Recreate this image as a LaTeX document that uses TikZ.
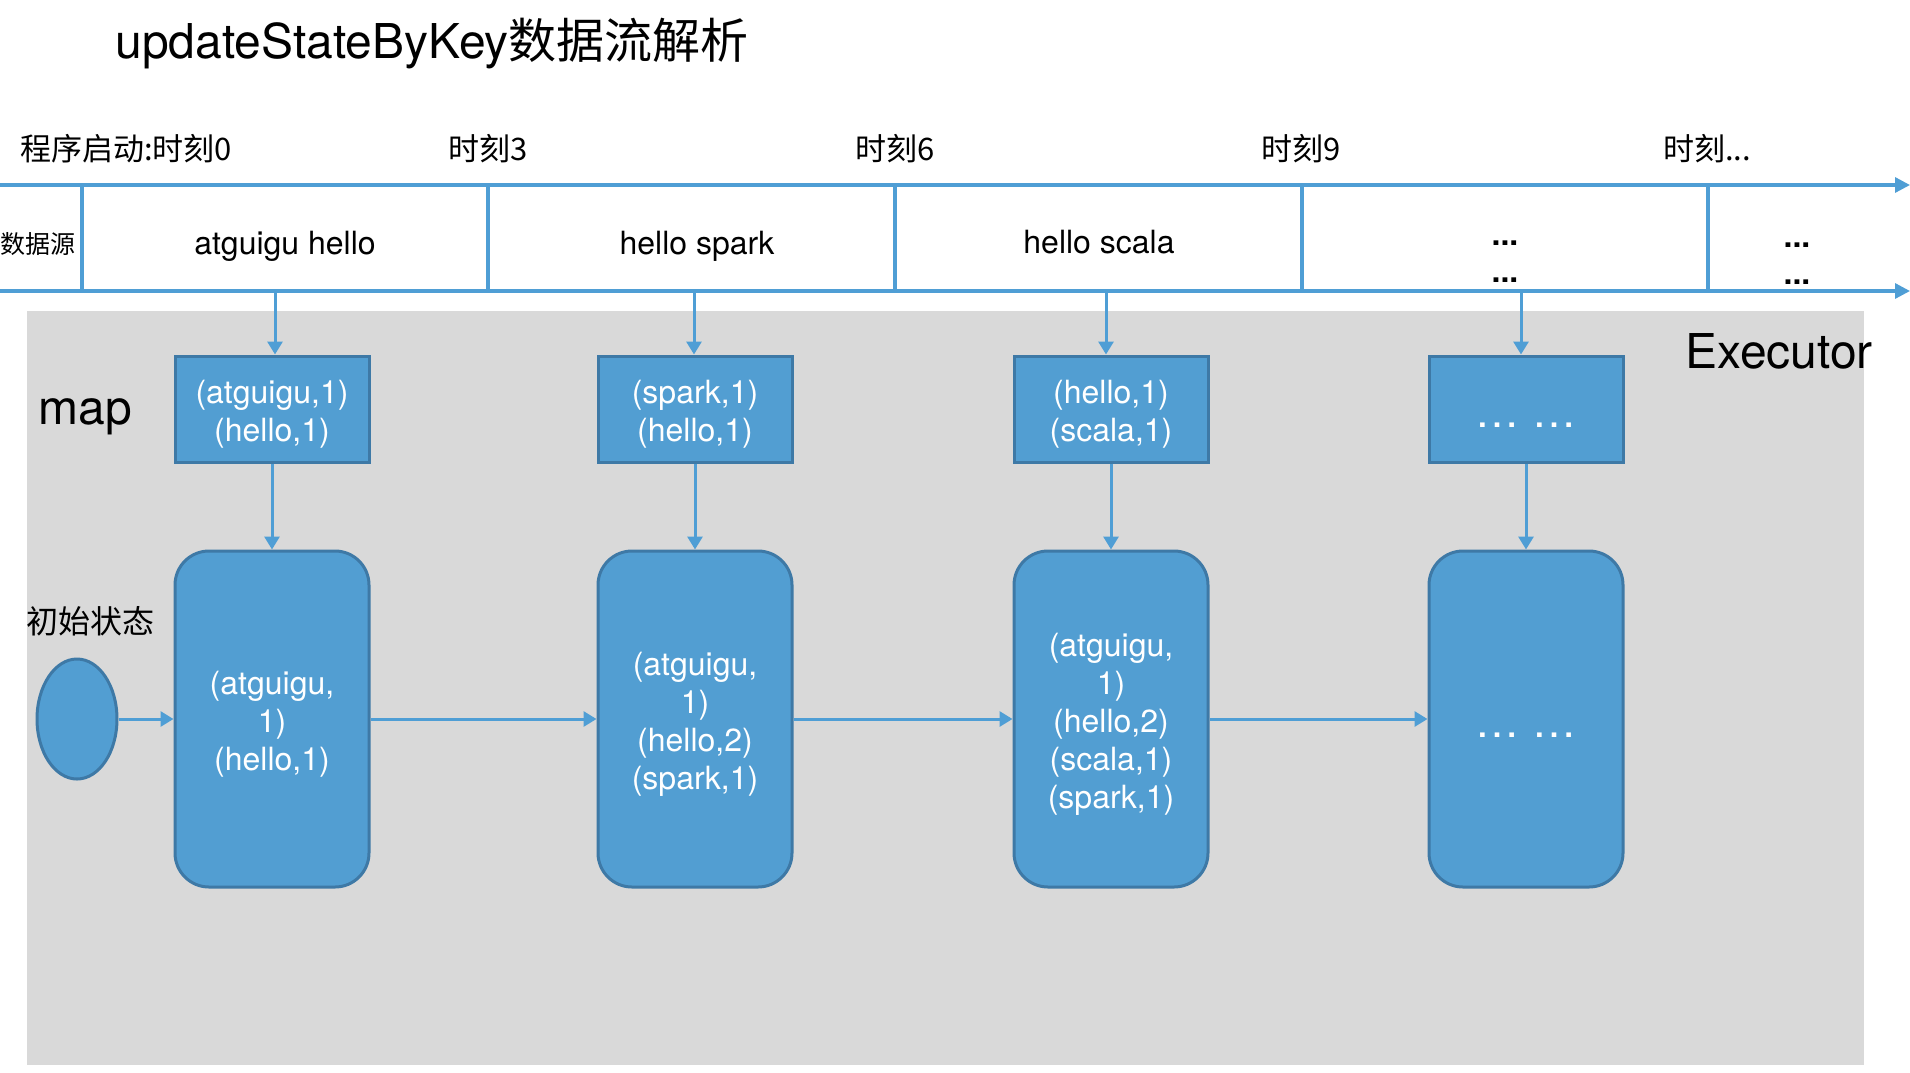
\documentclass[tikz,border=0pt]{standalone}
\usepackage{fontspec}
\setmainfont{TeX Gyre Heros}
\newfontfamily\cjk{Noto Sans CJK SC}
\usetikzlibrary{arrows.meta,positioning,shapes.geometric}

\definecolor{lineblue}{RGB}{79,158,213}
\definecolor{boxblue}{RGB}{82,158,210}
\definecolor{boxedge}{RGB}{62,121,166}
\definecolor{execgrey}{RGB}{217,217,217}

\tikzset{
  axisline/.style={draw=lineblue, line width=1.6pt, -{Triangle[length=7.5pt,width=7.5pt]}},
  sepline/.style={draw=lineblue, line width=1.6pt},
  flow/.style={draw=lineblue, line width=1.5pt, -{Triangle[length=6.5pt,width=7.5pt]}},
  mapbox/.style={rectangle, draw=boxedge, fill=boxblue, line width=1.5pt,
    minimum width=97pt, minimum height=53pt, text=white, align=center,
    font=\fontsize{16}{19}\selectfont, inner sep=0pt},
  statebox/.style={mapbox, rounded corners=17pt, minimum height=168pt},
  dotsbox/.style={text height=18.5pt, text depth=0pt},
  initstate/.style={ellipse, draw=boxedge, fill=boxblue, line width=1.5pt,
    minimum width=40pt, minimum height=60pt, inner sep=0pt},
  timelabel/.style={font={\cjk\fontsize{15.5}{18}\selectfont}, inner sep=0pt},
  datalabel/.style={font=\fontsize{16}{18.5}\selectfont, inner sep=0pt, align=center},
  biglabel/.style={font=\fontsize{24}{28}\selectfont, inner sep=0pt},
}
\newcommand{\dotpair}{{\fontsize{22}{24}\selectfont\textellipsis\ \textellipsis}}
\newcommand{\lowered}{\rule{0pt}{17pt}}

\begin{document}
\begin{tikzpicture}[x=0.5pt,y=-0.5pt]
\useasboundingbox (0,0) rectangle (1910,1072);
% Executor area
\fill[execgrey] (27,311) rectangle (1864,1065);

\node[biglabel, anchor=base west] (title) at (115,58) {updateStateByKey{\cjk 数据流解析}};

% time axis
\coordinate (top0) at (0,185);
\coordinate (top1) at (1910,185);
\coordinate (bot0) at (0,291);
\coordinate (bot1) at (1910,291);
\draw[axisline] (top0) -- (top1);
\draw[axisline] (bot0) -- (bot1);
\foreach \x in {82,488,895,1302,1708}
  \draw[sepline] (\x,185) -- (\x,291);

\node[timelabel] (t0) at (126,149) {程序启动:时刻0};
\node[timelabel] (t3) at (488,149) {时刻3};
\node[timelabel] (t6) at (895,149) {时刻6};
\node[timelabel] (t9) at (1301,149) {时刻9};
\node[timelabel] (tn) at (1707,149) {时刻...};

% data source
\node[font={\cjk\fontsize{12.5}{14}\selectfont}, inner sep=0pt] (src) at (38,244) {数据源};
\node[datalabel, anchor=base] (d1) at (285,254) {atguigu hello};
\node[datalabel, anchor=base] (d2) at (697,254) {hello spark};
\node[datalabel, anchor=base] (d3) at (1099,253) {hello scala};
\node[datalabel, font=\fontsize{16}{18.5}\selectfont\bfseries] (d4) at (1505,262) {...\\...};
\node[datalabel, font=\fontsize{16}{18.5}\selectfont\bfseries] (d5) at (1797,264) {...\\...};

% map
\node[biglabel, anchor=base west] (maplbl) at (38,424) {map};
\node[biglabel, anchor=base west] (exec) at (1685,368) {Executor};
\node[mapbox] (m1) at (272,409) {\lowered(atguigu,1)\\(hello,1)};
\node[mapbox] (m2) at (695,409) {\lowered(spark,1)\\(hello,1)};
\node[mapbox] (m3) at (1111,409) {\lowered(hello,1)\\(scala,1)};
\node[mapbox, dotsbox] (m4) at (1526,409) {\dotpair};

% state
\node[font={\cjk\fontsize{16}{18}\selectfont}, inner sep=0pt] (initlbl) at (90,621) {初始状态};
\node[initstate] (s0) at (77,719) {};
\node[statebox] (s1) at (272,719) {\lowered(atguigu,\\1)\\(hello,1)};
\node[statebox] (s2) at (695,719) {\lowered(atguigu,\\1)\\(hello,2)\\(spark,1)};
\node[statebox] (s3) at (1111,719) {\lowered(atguigu,\\1)\\(hello,2)\\(scala,1)\\(spark,1)};
\node[statebox, dotsbox] (s4) at (1526,719) {\dotpair};

\foreach \i/\x in {1/275,2/694,3/1106,4/1521} {
  \coordinate (in\i) at (\x,291);
  \draw[flow] (in\i) -- (in\i |- m\i.north);
  \draw[flow] (m\i.south) -- (s\i.north);
}
\draw[flow] (s0) -- (s1);
\draw[flow] (s1) -- (s2);
\draw[flow] (s2) -- (s3);
\draw[flow] (s3) -- (s4);
\end{tikzpicture}
\end{document}
